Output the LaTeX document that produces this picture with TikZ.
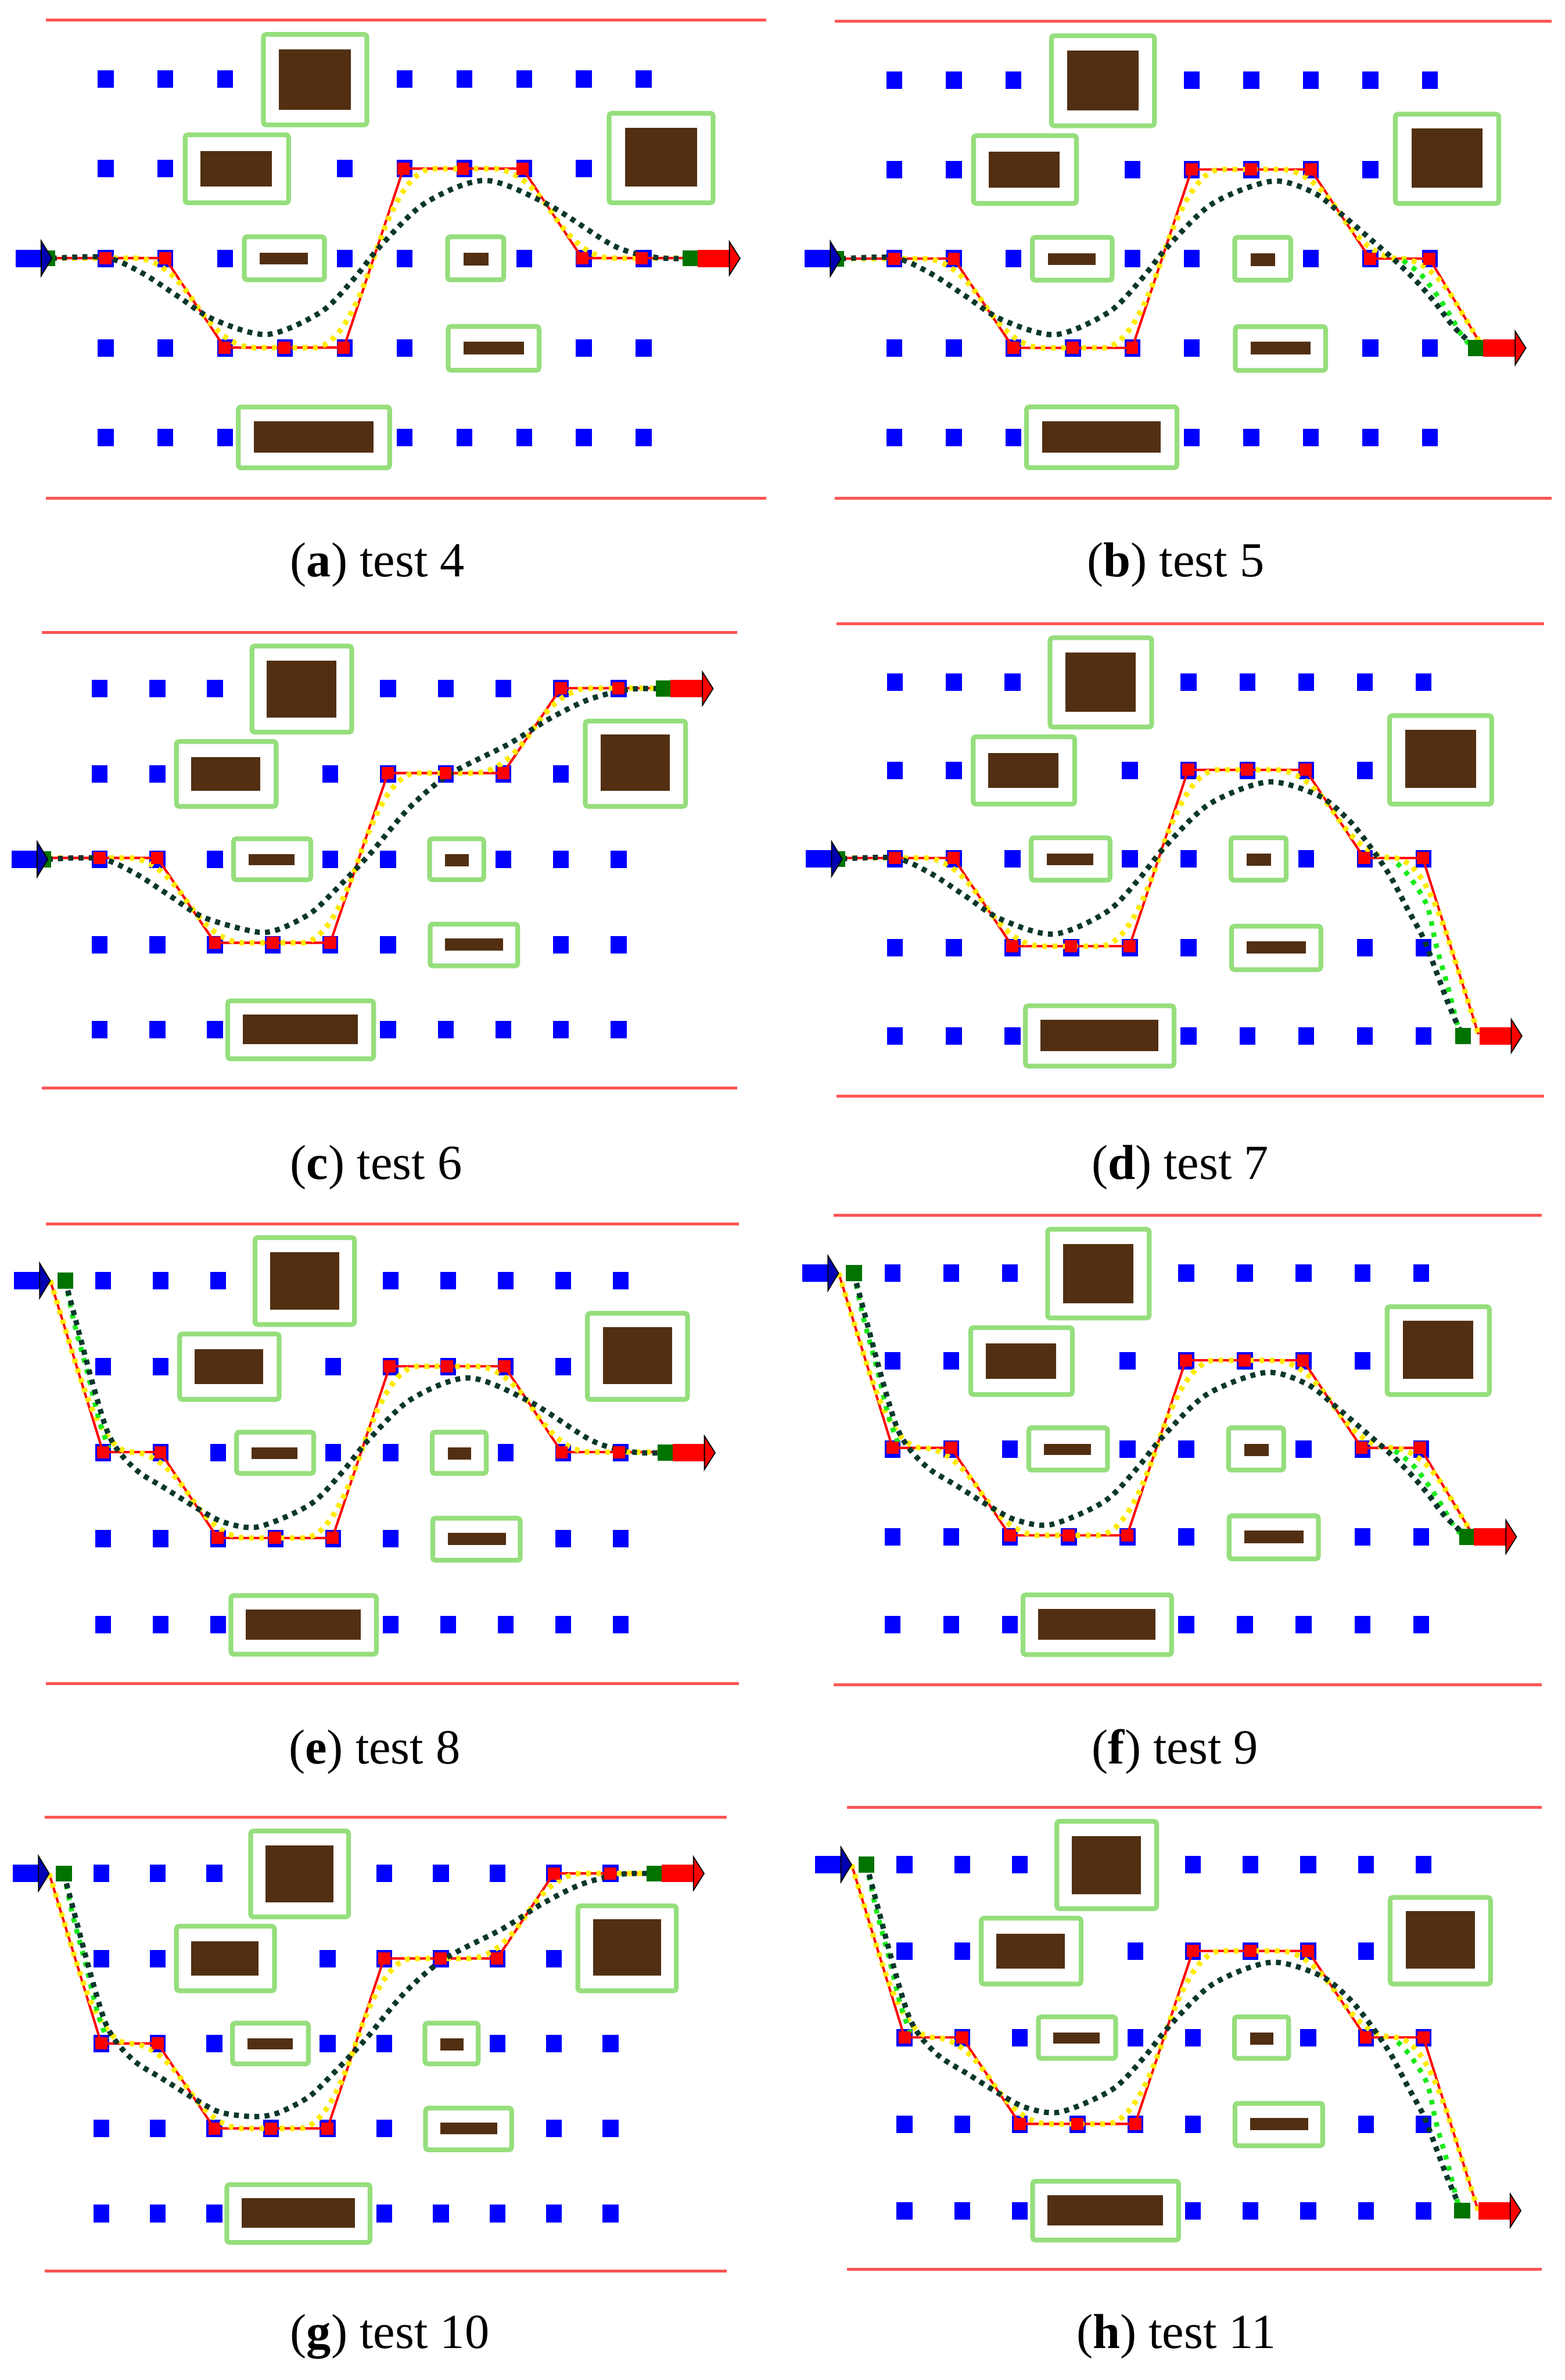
\documentclass[tikz,border=0pt]{standalone}
\usepackage{fontspec}
\setmainfont{Liberation Serif}
\usetikzlibrary{calc}

\definecolor{laneRed}{RGB}{255,85,85}
\definecolor{frameGreen}{RGB}{150,222,125}
\definecolor{blockBrown}{RGB}{82,47,18}
\definecolor{cellBlue}{RGB}{0,0,255}
\definecolor{pathYellow}{RGB}{255,235,0}
\definecolor{pathDark}{RGB}{10,55,45}
\definecolor{pathLight}{RGB}{25,235,25}
\definecolor{markGreen}{RGB}{0,115,0}

% one obstacle: safety frame and the block itself
\newcommand{\obstacle}[8]{%
  \draw[frame] (#1,#3) rectangle (#2,#4);
  \fill[block] (#5,#7) rectangle (#6,#8);
}

% the test field, in grid units (column, row)
\newcommand{\testmap}[1]{%
  \draw[border] (0,0.34) -- (12.05,0.34);
  \draw[border] (0,5.68) -- (12.05,5.68);
  \obstacle{3.64}{5.37}{0.50}{1.51}{3.90}{5.10}{0.67}{1.34}
  \obstacle{2.33}{4.06}{1.62}{2.38}{2.59}{3.78}{1.80}{2.20}
  \obstacle{9.42}{11.16}{1.38}{2.38}{9.69}{10.89}{1.54}{2.20}
  \obstacle{3.32}{4.66}{2.76}{3.24}{3.58}{4.38}{2.94}{3.07}
  \obstacle{6.72}{7.66}{2.76}{3.24}{6.99}{7.40}{2.94}{3.08}
  \obstacle{6.73}{8.25}{3.76}{4.25}{6.99}{8.00}{3.93}{4.07}
  \obstacle{3.22}{5.75}{4.66}{5.34}{3.48}{5.48}{4.82}{5.17}
  \foreach \row/\cols in {1/{1,2,3,6,7,8,9,10},2/{1,2,5,6,7,8,9},3/{1,2,3,5,6,8,9,10},4/{1,2,3,4,5,6,9,10},5/{1,2,3,6,7,8,9,10}}
    \foreach \col in \cols
      \node[cell] (#1-\col-\row) at (\col,\row) {};
}

% planned route (red) and its smoothed version (yellow)
\newcommand{\route}[2]{%
  \foreach \px/\py [count=\i from 0] in {#2}
    \coordinate (#1-p\i) at (\px,\py);
  \draw[route] (#1-p0) \foreach \i in {1,...,11} { -- (#1-p\i) };
  \draw[trackY] (#1-p0) -- ($(#1-p0)!.5!(#1-p1)$)
    \foreach \i [evaluate=\i as \j using int(\i-1), evaluate=\i as \k using int(\i+1)] in {1,...,10}
      { .. controls ($(#1-p\i)!.1667!(#1-p\j)$) and ($(#1-p\i)!.1667!(#1-p\k)$) .. ($(#1-p\i)!.5!(#1-p\k)$) }
    -- (#1-p11);
}
\newcommand{\waypoints}[1]{%
  \foreach \i in {1,...,10}
    \node[waypt] (#1-w\i) at (#1-p\i) {};
}

% start (blue) and goal (red) arrows, true size
\newcommand{\inarrow}[1]{%
  \fill[cellBlue] ([xshift=-0.48cm,yshift=-0.115cm]#1) rectangle ([xshift=-0.12cm,yshift=0.115cm]#1);
  \filldraw[fill=cellBlue!70!black, draw=black, line width=0.4pt]
    (#1) -- ([xshift=-0.14cm,yshift=0.23cm]#1) -- ([xshift=-0.14cm,yshift=-0.23cm]#1) -- cycle;
}
\newcommand{\outarrow}[1]{%
  \fill[red] ([yshift=-0.115cm]#1) rectangle ([xshift=0.44cm,yshift=0.115cm]#1);
  \filldraw[fill=red, draw=black, line width=0.4pt]
    ([xshift=0.42cm,yshift=0.22cm]#1) -- ([xshift=0.56cm]#1) -- ([xshift=0.42cm,yshift=-0.22cm]#1) -- cycle;
}

\begin{document}
\begin{tikzpicture}[
    x=0.02cm, y=-0.02cm,
    border/.style={laneRed, line width=1.1pt},
    frame/.style={frameGreen, line width=1.8pt, rounded corners=1pt},
    block/.style={fill=blockBrown},
    cell/.style={rectangle, fill=cellBlue, inner sep=0pt, minimum width=0.21cm, minimum height=0.23cm},
    waypt/.style={rectangle, fill=red, inner sep=0pt, minimum size=0.16cm},
    endpt/.style={rectangle, fill=markGreen, inner sep=0pt, minimum size=0.21cm},
    route/.style={red, line width=0.9pt},
    trackY/.style={pathYellow, line width=0.07cm, dash pattern=on 0.06cm off 0.075cm},
    trackD/.style={pathDark, line width=0.07cm, dash pattern=on 0.065cm off 0.07cm},
    trackL/.style={pathLight, line width=0.065cm, dash pattern=on 0.06cm off 0.09cm},
    caption/.style={anchor=base west, inner sep=0pt, font=\fontsize{18.4}{22}\selectfont}
  ]
  \useasboundingbox (0,0) rectangle (1031,1568);

  % (a) test 4
  \begin{scope}[shift={(30.2,-6.8)}, xscale=39.4, yscale=59.0]
    \testmap{a}
    \route{a}{0.1/3,1/3,2/3,3/4,4/4,5/4,6/2,7/2,8/2,9/3,10/3,10.9/3}
    \draw[trackD] plot[smooth, tension=0.5] coordinates {(0.1,3) (1.0,2.99) (1.6,3.16) (2.2,3.42) (2.8,3.68) (3.7,3.85) (4.6,3.6) (5.15,3.23) (5.6,2.86) (6.35,2.38) (7.35,2.13) (8.4,2.4) (9.5,2.86) (10.2,2.99) (10.78,3)};
    \waypoints{a}
    \node[endpt] (a-start) at (0.02,3) {};
    \node[endpt] (a-goal) at (10.78,3) {};
  \end{scope}
  \inarrow{a-p0}
  \outarrow{a-p11}

  % (b) test 5
  \begin{scope}[shift={(550.2,-5.9)}, xscale=39.2, yscale=58.8]
    \testmap{b}
    \route{b}{0.1/3,1/3,2/3,3/4,4/4,5/4,6/2,7/2,8/2,9/3,10/3,10.9/4}
    \draw[trackL] plot[smooth, tension=0.5] coordinates {(9.55,3.02) (9.84,3.17) (10.08,3.37) (10.33,3.62) (10.53,3.85) (10.72,4)};
    \draw[trackD] plot[smooth, tension=0.5] coordinates {(0.1,3) (1.0,2.99) (1.6,3.16) (2.2,3.42) (2.8,3.68) (3.7,3.85) (4.6,3.6) (5.15,3.23) (5.6,2.86) (6.35,2.38) (7.35,2.13) (8.05,2.26) (8.55,2.52) (9.02,2.79) (9.45,3.04) (9.8,3.27) (10.1,3.5) (10.4,3.76) (10.78,4)};
    \waypoints{b}
    \node[endpt] (b-start) at (0.02,3) {};
    \node[endpt] (b-goal) at (10.78,4) {};
  \end{scope}
  \inarrow{b-p0}
  \outarrow{b-p11}

  % (c) test 6
  \begin{scope}[shift={(27.7,397.5)}, xscale=38.0, yscale=56.2]
    \testmap{c}
    \route{c}{0.1/3,1/3,2/3,3/4,4/4,5/4,6/2,7/2,8/2,9/1,10/1,10.9/1}
    \draw[trackD] plot[smooth, tension=0.5] coordinates {(0.1,3) (1.0,2.99) (1.6,3.16) (2.2,3.42) (2.8,3.68) (3.7,3.85) (4.11,3.82) (4.64,3.64) (5.0,3.42) (5.67,2.95) (6.35,2.41) (7.05,2.01) (8.09,1.65) (8.78,1.36) (9.47,1.13) (10.16,1.01) (10.78,1)};
    \waypoints{c}
    \node[endpt] (c-start) at (0.02,3) {};
    \node[endpt] (c-goal) at (10.78,1) {};
  \end{scope}
  \inarrow{c-p0}
  \outarrow{c-p11}

  % (d) test 7
  \begin{scope}[shift={(551.1,391.0)}, xscale=38.7, yscale=58.3]
    \testmap{d}
    \route{d}{0.1/3,1/3,2/3,3/4,4/4,5/4,6/2,7/2,8/2,9/3,10/3,10.95/5}
    \draw[trackL] plot[smooth, tension=0.5] coordinates {(9.55,3.05) (9.77,3.21) (10.06,3.53) (10.22,3.99) (10.42,4.46) (10.58,4.88) (10.67,5)};
    \draw[trackD] plot[smooth, tension=0.5] coordinates {(0.1,3) (1.0,2.99) (1.6,3.16) (2.2,3.42) (2.8,3.68) (3.7,3.85) (4.6,3.6) (5.15,3.23) (5.6,2.86) (6.35,2.38) (7.35,2.13) (8.2,2.28) (8.68,2.53) (9.0,2.78) (9.41,3.17) (9.73,3.57) (10.0,3.9) (10.22,4.28) (10.4,4.6) (10.58,4.88) (10.67,5)};
    \waypoints{d}
    \node[endpt] (d-start) at (0.02,3) {};
    \node[endpt] (d-goal) at (10.67,5) {};
  \end{scope}
  \inarrow{d-p0}
  \outarrow{d-p11}

  % (e) test 8
  \begin{scope}[shift={(30.1,787.0)}, xscale=37.9, yscale=56.7]
    \testmap{e}
    \route{e}{0.08/1,1/3,2/3,3/4,4/4,5/4,6/2,7/2,8/2,9/3,10/3,10.9/3}
    \draw[trackL] plot[smooth, tension=0.5] coordinates {(0.34,1) (0.5,1.5) (0.72,2.05) (0.93,2.62) (1.1,2.95)};
    \draw[trackD] plot[smooth, tension=0.5] coordinates {(0.34,1) (0.55,1.53) (0.81,2.18) (1.07,2.75) (1.3,3.01) (1.63,3.23) (2.07,3.41) (2.67,3.66) (3.11,3.81) (3.7,3.86) (4.6,3.6) (5.15,3.23) (5.6,2.86) (6.35,2.38) (7.35,2.13) (8.4,2.4) (9.5,2.86) (10.2,2.99) (10.78,3)};
    \waypoints{e}
    \node[endpt] (e-start) at (0.34,1) {};
    \node[endpt] (e-goal) at (10.78,3) {};
  \end{scope}
  \inarrow{e-p0}
  \outarrow{e-p11}

  % (f) test 9
  \begin{scope}[shift={(549.5,780.9)}, xscale=38.7, yscale=57.9]
    \testmap{f}
    \route{f}{0.08/1,1/3,2/3,3/4,4/4,5/4,6/2,7/2,8/2,9/3,10/3,10.9/4}
    \draw[trackL] plot[smooth, tension=0.5] coordinates {(0.34,1) (0.5,1.5) (0.72,2.05) (0.93,2.62) (1.1,2.95)};
    \draw[trackL] plot[smooth, tension=0.5] coordinates {(9.55,3.02) (9.84,3.17) (10.08,3.37) (10.33,3.62) (10.53,3.85) (10.72,4)};
    \draw[trackD] plot[smooth, tension=0.5] coordinates {(0.34,1) (0.55,1.53) (0.81,2.18) (1.07,2.75) (1.3,3.01) (1.63,3.23) (2.07,3.41) (2.67,3.66) (3.11,3.81) (3.7,3.86) (4.6,3.6) (5.15,3.23) (5.6,2.86) (6.35,2.38) (7.35,2.13) (8.05,2.26) (8.55,2.52) (9.02,2.79) (9.45,3.04) (9.8,3.27) (10.1,3.5) (10.4,3.76) (10.78,4)};
    \waypoints{f}
    \node[endpt] (f-start) at (0.34,1) {};
    \node[endpt] (f-goal) at (10.78,4) {};
  \end{scope}
  \inarrow{f-p0}
  \outarrow{f-p11}

  % (g) test 10
  \begin{scope}[shift={(29.4,1178.3)}, xscale=37.3, yscale=56.0]
    \testmap{g}
    \route{g}{0.08/1,1/3,2/3,3/4,4/4,5/4,6/2,7/2,8/2,9/1,10/1,10.9/1}
    \draw[trackL] plot[smooth, tension=0.5] coordinates {(0.34,1) (0.5,1.5) (0.72,2.05) (0.93,2.62) (1.1,2.95)};
    \draw[trackD] plot[smooth, tension=0.5] coordinates {(0.34,1) (0.55,1.53) (0.81,2.18) (1.07,2.75) (1.3,3.01) (1.63,3.23) (2.07,3.41) (2.67,3.66) (3.11,3.81) (3.7,3.86) (4.11,3.82) (4.64,3.64) (5.0,3.42) (5.67,2.95) (6.35,2.41) (7.05,2.01) (8.09,1.65) (8.78,1.36) (9.47,1.13) (10.16,1.01) (10.78,1)};
    \waypoints{g}
    \node[endpt] (g-start) at (0.34,1) {};
    \node[endpt] (g-goal) at (10.78,1) {};
  \end{scope}
  \inarrow{g-p0}
  \outarrow{g-p11}

  % (h) test 11
  \begin{scope}[shift={(558.1,1171.4)}, xscale=38.0, yscale=57.0]
    \testmap{h}
    \route{h}{0.08/1,1/3,2/3,3/4,4/4,5/4,6/2,7/2,8/2,9/3,10/3,10.95/5}
    \draw[trackL] plot[smooth, tension=0.5] coordinates {(0.34,1) (0.5,1.5) (0.72,2.05) (0.93,2.62) (1.1,2.95)};
    \draw[trackL] plot[smooth, tension=0.5] coordinates {(9.55,3.05) (9.77,3.21) (10.06,3.53) (10.22,3.99) (10.42,4.46) (10.58,4.88) (10.67,5)};
    \draw[trackD] plot[smooth, tension=0.5] coordinates {(0.34,1) (0.55,1.53) (0.81,2.18) (1.07,2.75) (1.3,3.01) (1.63,3.23) (2.07,3.41) (2.67,3.66) (3.11,3.81) (3.7,3.86) (4.6,3.6) (5.15,3.23) (5.6,2.86) (6.35,2.38) (7.35,2.13) (8.2,2.28) (8.68,2.53) (9.0,2.78) (9.41,3.17) (9.73,3.57) (10.0,3.9) (10.22,4.28) (10.4,4.6) (10.58,4.88) (10.67,5)};
    \waypoints{h}
    \node[endpt] (h-start) at (0.34,1) {};
    \node[endpt] (h-goal) at (10.67,5) {};
  \end{scope}
  \inarrow{h-p0}
  \outarrow{h-p11}

  % captions
  \node[caption] (cap-a) at (191,380) {(\textbf{a}) test 4};
  \node[caption] (cap-b) at (716,380) {(\textbf{b}) test 5};
  \node[caption] (cap-c) at (191,777) {(\textbf{c}) test 6};
  \node[caption] (cap-d) at (719,777) {(\textbf{d}) test 7};
  \node[caption] (cap-e) at (190,1162) {(\textbf{e}) test 8};
  \node[caption] (cap-f) at (719,1162) {(\textbf{f}) test 9};
  \node[caption] (cap-g) at (191,1547) {(\textbf{g}) test 10};
  \node[caption] (cap-h) at (709,1547) {(\textbf{h}) test 11};
\end{tikzpicture}
\end{document}
